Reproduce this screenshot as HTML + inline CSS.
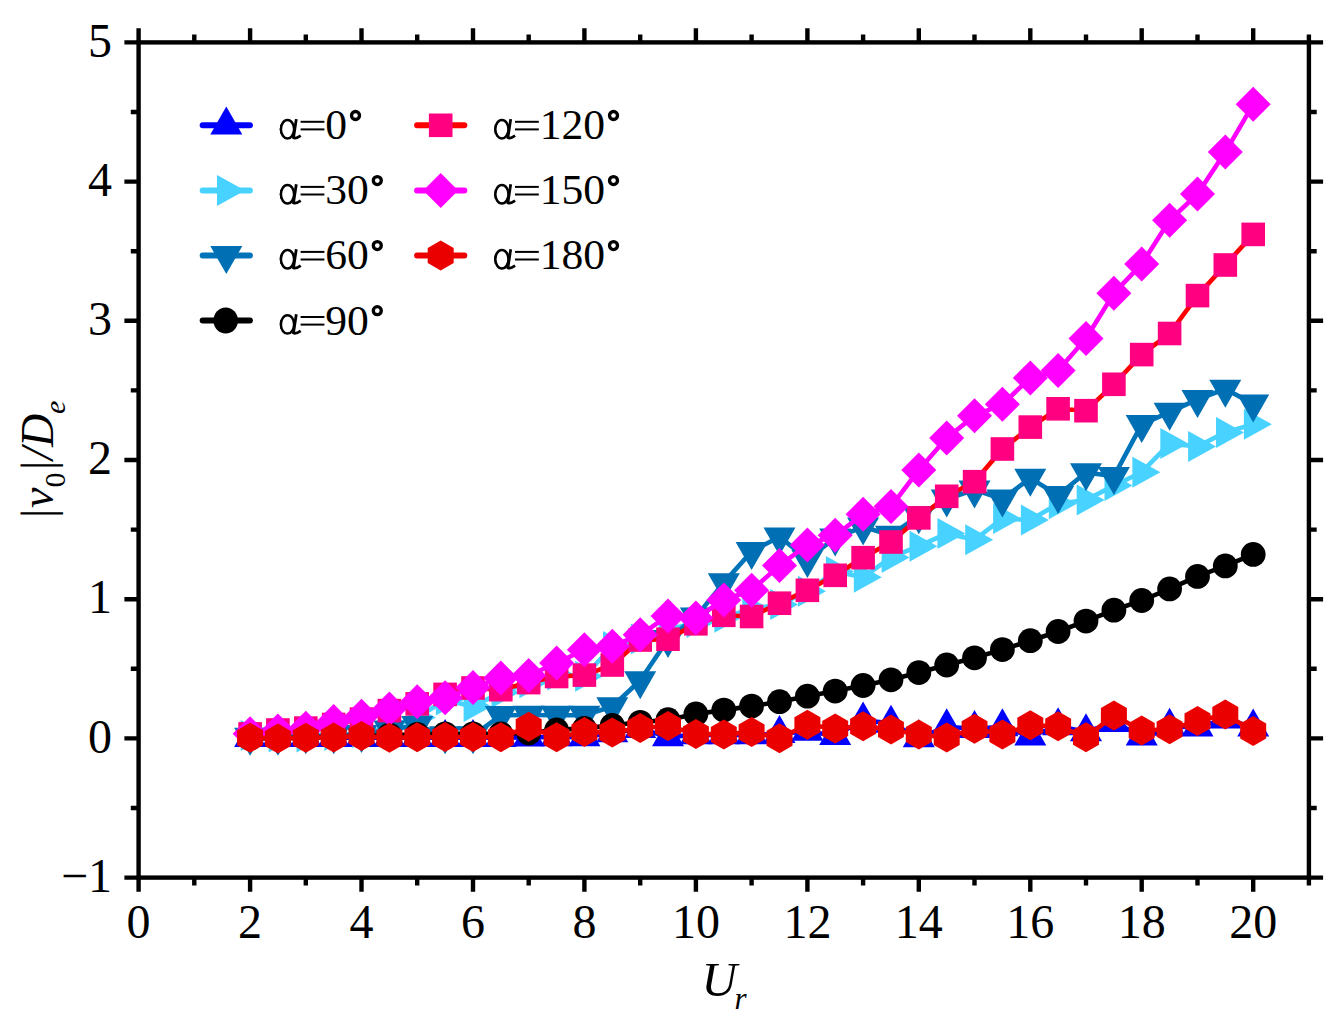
<!DOCTYPE html>
<html><head><meta charset="utf-8"><style>
html,body{margin:0;padding:0;background:#fff;width:1341px;height:1029px;overflow:hidden;}
svg{display:block;font-family:"Liberation Serif",serif;}
</style></head><body>
<svg width="1341" height="1029" viewBox="0 0 1341 1029">
<rect width="1341" height="1029" fill="#fff"/>
<polyline points="250.1,737.7 277.9,737.7 305.8,737.7 333.7,737.7 361.5,737.7 389.4,737.7 417.2,737.7 445.1,737.7 473.0,737.7 500.8,737.7 528.7,737.3 556.6,737.0 584.4,736.9 612.3,732.8 640.2,728.7 668.0,736.9 695.9,734.9 723.8,734.9 751.6,734.9 779.5,733.7 807.4,731.4 835.2,735.6 863.1,720.3 891.0,723.4 918.8,737.8 946.7,727.0 974.5,728.5 1002.4,727.0 1030.3,736.3 1058.1,725.9 1086.0,731.9 1113.9,722.5 1141.7,736.0 1169.6,726.4 1197.5,727.1 1225.3,719.1 1253.2,727.3" fill="none" stroke="#0000ff" stroke-width="4.6" stroke-linejoin="round" stroke-linecap="round"/>
<g fill="#0000ff"><path d="M250.1,719.0L266.1,747.0L234.1,747.0Z"/><path d="M277.9,719.0L293.9,747.0L261.9,747.0Z"/><path d="M305.8,719.0L321.8,747.0L289.8,747.0Z"/><path d="M333.7,719.0L349.7,747.0L317.7,747.0Z"/><path d="M361.5,719.0L377.5,747.0L345.5,747.0Z"/><path d="M389.4,719.0L405.4,747.0L373.4,747.0Z"/><path d="M417.2,719.0L433.2,747.0L401.2,747.0Z"/><path d="M445.1,719.0L461.1,747.0L429.1,747.0Z"/><path d="M473.0,719.0L489.0,747.0L457.0,747.0Z"/><path d="M500.8,719.0L516.8,747.0L484.8,747.0Z"/><path d="M528.7,718.6L544.7,746.6L512.7,746.6Z"/><path d="M556.6,718.3L572.6,746.3L540.6,746.3Z"/><path d="M584.4,718.2L600.4,746.2L568.4,746.2Z"/><path d="M612.3,714.2L628.3,742.2L596.3,742.2Z"/><path d="M640.2,710.0L656.2,738.0L624.2,738.0Z"/><path d="M668.0,718.2L684.0,746.2L652.0,746.2Z"/><path d="M695.9,716.3L711.9,744.3L679.9,744.3Z"/><path d="M723.8,716.3L739.8,744.3L707.8,744.3Z"/><path d="M751.6,716.3L767.6,744.3L735.6,744.3Z"/><path d="M779.5,715.0L795.5,743.0L763.5,743.0Z"/><path d="M807.4,712.8L823.4,740.8L791.4,740.8Z"/><path d="M835.2,716.9L851.2,744.9L819.2,744.9Z"/><path d="M863.1,701.6L879.1,729.6L847.1,729.6Z"/><path d="M891.0,704.7L907.0,732.7L875.0,732.7Z"/><path d="M918.8,719.2L934.8,747.2L902.8,747.2Z"/><path d="M946.7,708.3L962.7,736.3L930.7,736.3Z"/><path d="M974.5,709.9L990.5,737.9L958.5,737.9Z"/><path d="M1002.4,708.3L1018.4,736.3L986.4,736.3Z"/><path d="M1030.3,717.6L1046.3,745.6L1014.3,745.6Z"/><path d="M1058.1,707.2L1074.1,735.2L1042.1,735.2Z"/><path d="M1086.0,713.2L1102.0,741.2L1070.0,741.2Z"/><path d="M1113.9,703.9L1129.9,731.9L1097.9,731.9Z"/><path d="M1141.7,717.4L1157.7,745.4L1125.7,745.4Z"/><path d="M1169.6,707.8L1185.6,735.8L1153.6,735.8Z"/><path d="M1197.5,708.5L1213.5,736.5L1181.5,736.5Z"/><path d="M1225.3,700.4L1241.3,728.4L1209.3,728.4Z"/><path d="M1253.2,708.6L1269.2,736.6L1237.2,736.6Z"/></g>
<polyline points="250.1,735.6 277.9,737.0 305.8,737.0 333.7,735.6 361.5,732.8 389.4,727.3 417.2,717.5 445.1,700.1 473.0,706.4 500.8,692.5 528.7,682.7 556.6,675.1 584.4,676.2 612.3,646.5 640.2,638.9 668.0,629.8 695.9,622.6 723.8,617.3 751.6,608.9 779.5,604.6 807.4,591.3 835.2,571.4 863.1,577.3 891.0,557.4 918.8,546.2 946.7,533.6 974.5,539.8 1002.4,518.5 1030.3,520.1 1058.1,503.8 1086.0,500.0 1113.9,485.6 1141.7,472.2 1169.6,443.6 1197.5,446.5 1225.3,432.4 1253.2,424.2" fill="none" stroke="#48d2ff" stroke-width="4.6" stroke-linejoin="round" stroke-linecap="round"/>
<g fill="#48d2ff"><path d="M268.7,735.6L240.7,720.1L240.7,751.1Z"/><path d="M296.6,737.0L268.6,721.5L268.6,752.5Z"/><path d="M324.5,737.0L296.5,721.5L296.5,752.5Z"/><path d="M352.3,735.6L324.3,720.1L324.3,751.1Z"/><path d="M380.2,732.8L352.2,717.3L352.2,748.3Z"/><path d="M408.1,727.3L380.1,711.8L380.1,742.8Z"/><path d="M435.9,717.5L407.9,702.0L407.9,733.0Z"/><path d="M463.8,700.1L435.8,684.6L435.8,715.6Z"/><path d="M491.6,706.4L463.6,690.9L463.6,721.9Z"/><path d="M519.5,692.5L491.5,677.0L491.5,708.0Z"/><path d="M547.4,682.7L519.4,667.2L519.4,698.2Z"/><path d="M575.2,675.1L547.2,659.6L547.2,690.6Z"/><path d="M603.1,676.2L575.1,660.7L575.1,691.7Z"/><path d="M631.0,646.5L603.0,631.0L603.0,662.0Z"/><path d="M658.8,638.9L630.8,623.4L630.8,654.4Z"/><path d="M686.7,629.8L658.7,614.3L658.7,645.3Z"/><path d="M714.6,622.6L686.6,607.1L686.6,638.1Z"/><path d="M742.4,617.3L714.4,601.8L714.4,632.8Z"/><path d="M770.3,608.9L742.3,593.4L742.3,624.4Z"/><path d="M798.2,604.6L770.2,589.1L770.2,620.1Z"/><path d="M826.0,591.3L798.0,575.8L798.0,606.8Z"/><path d="M853.9,571.4L825.9,555.9L825.9,586.9Z"/><path d="M881.8,577.3L853.8,561.8L853.8,592.8Z"/><path d="M909.6,557.4L881.6,541.9L881.6,572.9Z"/><path d="M937.5,546.2L909.5,530.7L909.5,561.7Z"/><path d="M965.4,533.6L937.4,518.1L937.4,549.1Z"/><path d="M993.2,539.8L965.2,524.3L965.2,555.3Z"/><path d="M1021.1,518.5L993.1,503.0L993.1,534.0Z"/><path d="M1048.9,520.1L1020.9,504.6L1020.9,535.6Z"/><path d="M1076.8,503.8L1048.8,488.3L1048.8,519.3Z"/><path d="M1104.7,500.0L1076.7,484.5L1076.7,515.5Z"/><path d="M1132.5,485.6L1104.5,470.1L1104.5,501.1Z"/><path d="M1160.4,472.2L1132.4,456.7L1132.4,487.7Z"/><path d="M1188.3,443.6L1160.3,428.1L1160.3,459.1Z"/><path d="M1216.1,446.5L1188.1,431.0L1188.1,462.0Z"/><path d="M1244.0,432.4L1216.0,416.9L1216.0,447.9Z"/><path d="M1271.9,424.2L1243.9,408.7L1243.9,439.7Z"/></g>
<polyline points="250.1,737.0 277.9,737.0 305.8,735.6 333.7,735.6 361.5,734.2 389.4,729.8 417.2,725.3 445.1,735.6 473.0,735.6 500.8,715.3 528.7,715.0 556.6,715.2 584.4,715.2 612.3,706.5 640.2,680.5 668.0,639.3 695.9,616.9 723.8,582.6 751.6,551.5 779.5,536.7 807.4,559.2 835.2,538.0 863.1,526.8 891.0,535.2 918.8,515.7 946.7,499.0 974.5,489.9 1002.4,499.0 1030.3,478.1 1058.1,495.2 1086.0,472.5 1113.9,476.3 1141.7,424.4 1169.6,412.1 1197.5,399.4 1225.3,389.0 1253.2,403.9" fill="none" stroke="#0074b9" stroke-width="4.6" stroke-linejoin="round" stroke-linecap="round"/>
<g fill="#006fb4"><path d="M250.1,755.7L266.1,727.7L234.1,727.7Z"/><path d="M277.9,755.7L293.9,727.7L261.9,727.7Z"/><path d="M305.8,754.3L321.8,726.3L289.8,726.3Z"/><path d="M333.7,754.3L349.7,726.3L317.7,726.3Z"/><path d="M361.5,752.9L377.5,724.9L345.5,724.9Z"/><path d="M389.4,748.4L405.4,720.4L373.4,720.4Z"/><path d="M417.2,744.0L433.2,716.0L401.2,716.0Z"/><path d="M445.1,754.3L461.1,726.3L429.1,726.3Z"/><path d="M473.0,754.3L489.0,726.3L457.0,726.3Z"/><path d="M500.8,734.0L516.8,706.0L484.8,706.0Z"/><path d="M528.7,733.7L544.7,705.7L512.7,705.7Z"/><path d="M556.6,733.8L572.6,705.8L540.6,705.8Z"/><path d="M584.4,733.8L600.4,705.8L568.4,705.8Z"/><path d="M612.3,725.2L628.3,697.2L596.3,697.2Z"/><path d="M640.2,699.2L656.2,671.2L624.2,671.2Z"/><path d="M668.0,658.0L684.0,630.0L652.0,630.0Z"/><path d="M695.9,635.5L711.9,607.5L679.9,607.5Z"/><path d="M723.8,601.3L739.8,573.3L707.8,573.3Z"/><path d="M751.6,570.1L767.6,542.1L735.6,542.1Z"/><path d="M779.5,555.4L795.5,527.4L763.5,527.4Z"/><path d="M807.4,577.9L823.4,549.9L791.4,549.9Z"/><path d="M835.2,556.6L851.2,528.6L819.2,528.6Z"/><path d="M863.1,545.5L879.1,517.5L847.1,517.5Z"/><path d="M891.0,553.8L907.0,525.8L875.0,525.8Z"/><path d="M918.8,534.3L934.8,506.3L902.8,506.3Z"/><path d="M946.7,517.6L962.7,489.6L930.7,489.6Z"/><path d="M974.5,508.6L990.5,480.6L958.5,480.6Z"/><path d="M1002.4,517.6L1018.4,489.6L986.4,489.6Z"/><path d="M1030.3,496.8L1046.3,468.8L1014.3,468.8Z"/><path d="M1058.1,513.9L1074.1,485.9L1042.1,485.9Z"/><path d="M1086.0,491.2L1102.0,463.2L1070.0,463.2Z"/><path d="M1113.9,495.0L1129.9,467.0L1097.9,467.0Z"/><path d="M1141.7,443.0L1157.7,415.0L1125.7,415.0Z"/><path d="M1169.6,430.8L1185.6,402.8L1153.6,402.8Z"/><path d="M1197.5,418.1L1213.5,390.1L1181.5,390.1Z"/><path d="M1225.3,407.7L1241.3,379.7L1209.3,379.7Z"/><path d="M1253.2,422.6L1269.2,394.6L1237.2,394.6Z"/></g>
<polyline points="250.1,738.4 277.9,738.4 305.8,737.7 333.7,737.0 361.5,736.3 389.4,735.1 417.2,734.5 445.1,733.8 473.0,733.8 500.8,733.8 528.7,733.0 556.6,729.9 584.4,728.4 612.3,725.3 640.2,722.3 668.0,719.7 695.9,714.0 723.8,710.1 751.6,706.1 779.5,701.7 807.4,696.2 835.2,691.1 863.1,685.5 891.0,679.8 918.8,672.6 946.7,665.0 974.5,657.8 1002.4,649.6 1030.3,640.7 1058.1,631.5 1086.0,621.1 1113.9,610.2 1141.7,600.5 1169.6,588.9 1197.5,576.4 1225.3,565.9 1253.2,554.4" fill="none" stroke="#000000" stroke-width="4.6" stroke-linejoin="round" stroke-linecap="round"/>
<g fill="#000000"><circle cx="250.1" cy="738.4" r="12.4"/><circle cx="277.9" cy="738.4" r="12.4"/><circle cx="305.8" cy="737.7" r="12.4"/><circle cx="333.7" cy="737.0" r="12.4"/><circle cx="361.5" cy="736.3" r="12.4"/><circle cx="389.4" cy="735.1" r="12.4"/><circle cx="417.2" cy="734.5" r="12.4"/><circle cx="445.1" cy="733.8" r="12.4"/><circle cx="473.0" cy="733.8" r="12.4"/><circle cx="500.8" cy="733.8" r="12.4"/><circle cx="528.7" cy="733.0" r="12.4"/><circle cx="556.6" cy="729.9" r="12.4"/><circle cx="584.4" cy="728.4" r="12.4"/><circle cx="612.3" cy="725.3" r="12.4"/><circle cx="640.2" cy="722.3" r="12.4"/><circle cx="668.0" cy="719.7" r="12.4"/><circle cx="695.9" cy="714.0" r="12.4"/><circle cx="723.8" cy="710.1" r="12.4"/><circle cx="751.6" cy="706.1" r="12.4"/><circle cx="779.5" cy="701.7" r="12.4"/><circle cx="807.4" cy="696.2" r="12.4"/><circle cx="835.2" cy="691.1" r="12.4"/><circle cx="863.1" cy="685.5" r="12.4"/><circle cx="891.0" cy="679.8" r="12.4"/><circle cx="918.8" cy="672.6" r="12.4"/><circle cx="946.7" cy="665.0" r="12.4"/><circle cx="974.5" cy="657.8" r="12.4"/><circle cx="1002.4" cy="649.6" r="12.4"/><circle cx="1030.3" cy="640.7" r="12.4"/><circle cx="1058.1" cy="631.5" r="12.4"/><circle cx="1086.0" cy="621.1" r="12.4"/><circle cx="1113.9" cy="610.2" r="12.4"/><circle cx="1141.7" cy="600.5" r="12.4"/><circle cx="1169.6" cy="588.9" r="12.4"/><circle cx="1197.5" cy="576.4" r="12.4"/><circle cx="1225.3" cy="565.9" r="12.4"/><circle cx="1253.2" cy="554.4" r="12.4"/></g>
<polyline points="250.1,733.9 277.9,730.0 305.8,728.1 333.7,724.5 361.5,719.1 389.4,710.6 417.2,703.9 445.1,694.4 473.0,688.0 500.8,689.7 528.7,682.6 556.6,676.5 584.4,675.1 612.3,665.0 640.2,640.0 668.0,639.2 695.9,623.8 723.8,615.3 751.6,616.5 779.5,603.2 807.4,590.3 835.2,575.3 863.1,557.7 891.0,542.0 918.8,517.9 946.7,496.3 974.5,481.7 1002.4,449.0 1030.3,427.1 1058.1,408.8 1086.0,410.7 1113.9,384.3 1141.7,354.6 1169.6,333.5 1197.5,295.6 1225.3,265.0 1253.2,234.4" fill="none" stroke="#ff0000" stroke-width="4.6" stroke-linejoin="round" stroke-linecap="round"/>
<g fill="#ff0080"><rect x="238.3" y="722.1" width="23.6" height="23.6"/><rect x="266.1" y="718.2" width="23.6" height="23.6"/><rect x="294.0" y="716.3" width="23.6" height="23.6"/><rect x="321.9" y="712.7" width="23.6" height="23.6"/><rect x="349.7" y="707.3" width="23.6" height="23.6"/><rect x="377.6" y="698.8" width="23.6" height="23.6"/><rect x="405.4" y="692.1" width="23.6" height="23.6"/><rect x="433.3" y="682.6" width="23.6" height="23.6"/><rect x="461.2" y="676.2" width="23.6" height="23.6"/><rect x="489.0" y="677.9" width="23.6" height="23.6"/><rect x="516.9" y="670.8" width="23.6" height="23.6"/><rect x="544.8" y="664.7" width="23.6" height="23.6"/><rect x="572.6" y="663.3" width="23.6" height="23.6"/><rect x="600.5" y="653.2" width="23.6" height="23.6"/><rect x="628.4" y="628.2" width="23.6" height="23.6"/><rect x="656.2" y="627.4" width="23.6" height="23.6"/><rect x="684.1" y="612.0" width="23.6" height="23.6"/><rect x="712.0" y="603.5" width="23.6" height="23.6"/><rect x="739.8" y="604.7" width="23.6" height="23.6"/><rect x="767.7" y="591.4" width="23.6" height="23.6"/><rect x="795.6" y="578.5" width="23.6" height="23.6"/><rect x="823.4" y="563.5" width="23.6" height="23.6"/><rect x="851.3" y="545.9" width="23.6" height="23.6"/><rect x="879.2" y="530.2" width="23.6" height="23.6"/><rect x="907.0" y="506.1" width="23.6" height="23.6"/><rect x="934.9" y="484.5" width="23.6" height="23.6"/><rect x="962.8" y="469.9" width="23.6" height="23.6"/><rect x="990.6" y="437.2" width="23.6" height="23.6"/><rect x="1018.5" y="415.3" width="23.6" height="23.6"/><rect x="1046.3" y="397.0" width="23.6" height="23.6"/><rect x="1074.2" y="398.9" width="23.6" height="23.6"/><rect x="1102.1" y="372.5" width="23.6" height="23.6"/><rect x="1129.9" y="342.8" width="23.6" height="23.6"/><rect x="1157.8" y="321.7" width="23.6" height="23.6"/><rect x="1185.7" y="283.8" width="23.6" height="23.6"/><rect x="1213.5" y="253.2" width="23.6" height="23.6"/><rect x="1241.4" y="222.6" width="23.6" height="23.6"/></g>
<polyline points="250.1,733.8 277.9,731.0 305.8,728.2 333.7,721.4 361.5,716.3 389.4,709.0 417.2,701.7 445.1,697.8 473.0,687.5 500.8,678.0 528.7,675.5 556.6,663.0 584.4,649.7 612.3,646.2 640.2,634.8 668.0,615.9 695.9,618.0 723.8,600.0 751.6,590.2 779.5,565.5 807.4,544.9 835.2,535.3 863.1,514.3 891.0,506.6 918.8,470.0 946.7,438.1 974.5,415.7 1002.4,404.3 1030.3,377.9 1058.1,370.4 1086.0,338.5 1113.9,293.2 1141.7,264.1 1169.6,220.3 1197.5,194.1 1225.3,152.1 1253.2,104.3" fill="none" stroke="#ff00ff" stroke-width="4.6" stroke-linejoin="round" stroke-linecap="round"/>
<g fill="#ff00ff"><path d="M250.1,716.3L267.6,733.8L250.1,751.3L232.6,733.8Z"/><path d="M277.9,713.5L295.4,731.0L277.9,748.5L260.4,731.0Z"/><path d="M305.8,710.7L323.3,728.2L305.8,745.7L288.3,728.2Z"/><path d="M333.7,703.9L351.2,721.4L333.7,738.9L316.2,721.4Z"/><path d="M361.5,698.8L379.0,716.3L361.5,733.8L344.0,716.3Z"/><path d="M389.4,691.5L406.9,709.0L389.4,726.5L371.9,709.0Z"/><path d="M417.2,684.2L434.8,701.7L417.2,719.2L399.8,701.7Z"/><path d="M445.1,680.3L462.6,697.8L445.1,715.3L427.6,697.8Z"/><path d="M473.0,670.0L490.5,687.5L473.0,705.0L455.5,687.5Z"/><path d="M500.8,660.5L518.3,678.0L500.8,695.5L483.3,678.0Z"/><path d="M528.7,658.0L546.2,675.5L528.7,693.0L511.2,675.5Z"/><path d="M556.6,645.5L574.1,663.0L556.6,680.5L539.1,663.0Z"/><path d="M584.4,632.2L601.9,649.7L584.4,667.2L566.9,649.7Z"/><path d="M612.3,628.7L629.8,646.2L612.3,663.7L594.8,646.2Z"/><path d="M640.2,617.3L657.7,634.8L640.2,652.3L622.7,634.8Z"/><path d="M668.0,598.4L685.5,615.9L668.0,633.4L650.5,615.9Z"/><path d="M695.9,600.5L713.4,618.0L695.9,635.5L678.4,618.0Z"/><path d="M723.8,582.5L741.3,600.0L723.8,617.5L706.3,600.0Z"/><path d="M751.6,572.7L769.1,590.2L751.6,607.7L734.1,590.2Z"/><path d="M779.5,548.0L797.0,565.5L779.5,583.0L762.0,565.5Z"/><path d="M807.4,527.4L824.9,544.9L807.4,562.4L789.9,544.9Z"/><path d="M835.2,517.8L852.7,535.3L835.2,552.8L817.7,535.3Z"/><path d="M863.1,496.8L880.6,514.3L863.1,531.8L845.6,514.3Z"/><path d="M891.0,489.1L908.5,506.6L891.0,524.1L873.5,506.6Z"/><path d="M918.8,452.5L936.3,470.0L918.8,487.5L901.3,470.0Z"/><path d="M946.7,420.6L964.2,438.1L946.7,455.6L929.2,438.1Z"/><path d="M974.5,398.2L992.0,415.7L974.5,433.2L957.0,415.7Z"/><path d="M1002.4,386.8L1019.9,404.3L1002.4,421.8L984.9,404.3Z"/><path d="M1030.3,360.4L1047.8,377.9L1030.3,395.4L1012.8,377.9Z"/><path d="M1058.1,352.9L1075.6,370.4L1058.1,387.9L1040.6,370.4Z"/><path d="M1086.0,321.0L1103.5,338.5L1086.0,356.0L1068.5,338.5Z"/><path d="M1113.9,275.7L1131.4,293.2L1113.9,310.7L1096.4,293.2Z"/><path d="M1141.7,246.6L1159.2,264.1L1141.7,281.6L1124.2,264.1Z"/><path d="M1169.6,202.8L1187.1,220.3L1169.6,237.8L1152.1,220.3Z"/><path d="M1197.5,176.6L1215.0,194.1L1197.5,211.6L1180.0,194.1Z"/><path d="M1225.3,134.6L1242.8,152.1L1225.3,169.6L1207.8,152.1Z"/><path d="M1253.2,86.8L1270.7,104.3L1253.2,121.8L1235.7,104.3Z"/></g>
<polyline points="250.1,737.7 277.9,738.4 305.8,737.7 333.7,737.4 361.5,736.0 389.4,737.7 417.2,737.3 445.1,737.0 473.0,737.0 500.8,737.3 528.7,726.8 556.6,737.3 584.4,731.9 612.3,732.6 640.2,728.0 668.0,726.0 695.9,733.9 723.8,734.4 751.6,732.1 779.5,738.3 807.4,724.8 835.2,728.5 863.1,726.3 891.0,729.6 918.8,734.5 946.7,737.4 974.5,728.8 1002.4,734.5 1030.3,725.2 1058.1,726.2 1086.0,737.3 1113.9,715.4 1141.7,730.5 1169.6,729.2 1197.5,721.1 1225.3,714.5 1253.2,731.0" fill="none" stroke="#ee0000" stroke-width="4.6" stroke-linejoin="round" stroke-linecap="round"/>
<g fill="#eb0000"><path d="M250.1,722.7L237.1,730.2L237.1,745.2L250.1,752.7L263.1,745.2L263.1,730.2Z"/><path d="M277.9,723.4L264.9,730.9L264.9,745.9L277.9,753.4L290.9,745.9L290.9,730.9Z"/><path d="M305.8,722.7L292.8,730.2L292.8,745.2L305.8,752.7L318.8,745.2L318.8,730.2Z"/><path d="M333.7,722.4L320.7,729.9L320.7,744.9L333.7,752.4L346.6,744.9L346.6,729.9Z"/><path d="M361.5,721.0L348.5,728.5L348.5,743.5L361.5,751.0L374.5,743.5L374.5,728.5Z"/><path d="M389.4,722.7L376.4,730.2L376.4,745.2L389.4,752.7L402.4,745.2L402.4,730.2Z"/><path d="M417.2,722.3L404.3,729.8L404.3,744.8L417.2,752.3L430.2,744.8L430.2,729.8Z"/><path d="M445.1,722.0L432.1,729.5L432.1,744.5L445.1,752.0L458.1,744.5L458.1,729.5Z"/><path d="M473.0,722.0L460.0,729.5L460.0,744.5L473.0,752.0L486.0,744.5L486.0,729.5Z"/><path d="M500.8,722.3L487.9,729.8L487.9,744.8L500.8,752.3L513.8,744.8L513.8,729.8Z"/><path d="M528.7,711.8L515.7,719.3L515.7,734.3L528.7,741.8L541.7,734.3L541.7,719.3Z"/><path d="M556.6,722.3L543.6,729.8L543.6,744.8L556.6,752.3L569.6,744.8L569.6,729.8Z"/><path d="M584.4,716.9L571.4,724.4L571.4,739.4L584.4,746.9L597.4,739.4L597.4,724.4Z"/><path d="M612.3,717.6L599.3,725.1L599.3,740.1L612.3,747.6L625.3,740.1L625.3,725.1Z"/><path d="M640.2,713.0L627.2,720.5L627.2,735.5L640.2,743.0L653.2,735.5L653.2,720.5Z"/><path d="M668.0,711.0L655.0,718.5L655.0,733.5L668.0,741.0L681.0,733.5L681.0,718.5Z"/><path d="M695.9,718.9L682.9,726.4L682.9,741.4L695.9,748.9L708.9,741.4L708.9,726.4Z"/><path d="M723.8,719.4L710.8,726.9L710.8,741.9L723.8,749.4L736.8,741.9L736.8,726.9Z"/><path d="M751.6,717.1L738.6,724.6L738.6,739.6L751.6,747.1L764.6,739.6L764.6,724.6Z"/><path d="M779.5,723.3L766.5,730.8L766.5,745.8L779.5,753.3L792.5,745.8L792.5,730.8Z"/><path d="M807.4,709.8L794.4,717.3L794.4,732.3L807.4,739.8L820.4,732.3L820.4,717.3Z"/><path d="M835.2,713.5L822.2,721.0L822.2,736.0L835.2,743.5L848.2,736.0L848.2,721.0Z"/><path d="M863.1,711.3L850.1,718.8L850.1,733.8L863.1,741.3L876.1,733.8L876.1,718.8Z"/><path d="M891.0,714.6L878.0,722.1L878.0,737.1L891.0,744.6L903.9,737.1L903.9,722.1Z"/><path d="M918.8,719.5L905.8,727.0L905.8,742.0L918.8,749.5L931.8,742.0L931.8,727.0Z"/><path d="M946.7,722.4L933.7,729.9L933.7,744.9L946.7,752.4L959.7,744.9L959.7,729.9Z"/><path d="M974.5,713.8L961.6,721.3L961.6,736.3L974.5,743.8L987.5,736.3L987.5,721.3Z"/><path d="M1002.4,719.5L989.4,727.0L989.4,742.0L1002.4,749.5L1015.4,742.0L1015.4,727.0Z"/><path d="M1030.3,710.2L1017.3,717.7L1017.3,732.7L1030.3,740.2L1043.3,732.7L1043.3,717.7Z"/><path d="M1058.1,711.2L1045.2,718.7L1045.2,733.7L1058.1,741.2L1071.1,733.7L1071.1,718.7Z"/><path d="M1086.0,722.3L1073.0,729.8L1073.0,744.8L1086.0,752.3L1099.0,744.8L1099.0,729.8Z"/><path d="M1113.9,700.4L1100.9,707.9L1100.9,722.9L1113.9,730.4L1126.9,722.9L1126.9,707.9Z"/><path d="M1141.7,715.5L1128.7,723.0L1128.7,738.0L1141.7,745.5L1154.7,738.0L1154.7,723.0Z"/><path d="M1169.6,714.2L1156.6,721.7L1156.6,736.7L1169.6,744.2L1182.6,736.7L1182.6,721.7Z"/><path d="M1197.5,706.1L1184.5,713.6L1184.5,728.6L1197.5,736.1L1210.5,728.6L1210.5,713.6Z"/><path d="M1225.3,699.5L1212.3,707.0L1212.3,722.0L1225.3,729.5L1238.3,722.0L1238.3,707.0Z"/><path d="M1253.2,716.0L1240.2,723.5L1240.2,738.5L1253.2,746.0L1266.2,738.5L1266.2,723.5Z"/></g>
<line x1="202.7" y1="125.3" x2="249.9" y2="125.3" stroke="#0000ff" stroke-width="6" stroke-linecap="round"/>
<g fill="#0000ff"><path d="M226.3,106.6L242.3,134.6L210.3,134.6Z"/></g>
<ellipse cx="287.5" cy="129.2" rx="6.6" ry="9.2" fill="none" stroke="#000" stroke-width="2.5"/>
<path d="M281.3,124.8Q280.0,129.2 281.3,133.6" stroke="#000" stroke-width="1.8" fill="none"/>
<path d="M296.3,119.1L293.5,137.7Q295.6,139.1 300.7,135.6" stroke="#000" stroke-width="2.8" fill="none"/>
<rect x="300.6" y="120.8" width="23.8" height="2" fill="#000"/><rect x="300.6" y="128.4" width="23.8" height="2" fill="#000"/>
<g transform="translate(325.3,139.3) scale(1.048,1)"><text font-family="Liberation Serif" font-size="41.6">0</text></g>
<circle cx="355.5" cy="115.5" r="4.0" fill="none" stroke="#000" stroke-width="3.3"/>
<line x1="202.7" y1="190.4" x2="249.9" y2="190.4" stroke="#48d2ff" stroke-width="6" stroke-linecap="round"/>
<g fill="#48d2ff"><path d="M245.0,190.4L217.0,174.9L217.0,205.9Z"/></g>
<ellipse cx="287.5" cy="194.3" rx="6.6" ry="9.2" fill="none" stroke="#000" stroke-width="2.5"/>
<path d="M281.3,189.9Q280.0,194.3 281.3,198.7" stroke="#000" stroke-width="1.8" fill="none"/>
<path d="M296.3,184.2L293.5,202.8Q295.6,204.2 300.7,200.7" stroke="#000" stroke-width="2.8" fill="none"/>
<rect x="300.6" y="185.9" width="23.8" height="2" fill="#000"/><rect x="300.6" y="193.5" width="23.8" height="2" fill="#000"/>
<g transform="translate(325.3,204.4) scale(1.048,1)"><text font-family="Liberation Serif" font-size="41.6">30</text></g>
<circle cx="377.3" cy="180.6" r="4.0" fill="none" stroke="#000" stroke-width="3.3"/>
<line x1="202.7" y1="255.4" x2="249.9" y2="255.4" stroke="#0074b9" stroke-width="6" stroke-linecap="round"/>
<g fill="#006fb4"><path d="M226.3,274.1L242.3,246.1L210.3,246.1Z"/></g>
<ellipse cx="287.5" cy="259.3" rx="6.6" ry="9.2" fill="none" stroke="#000" stroke-width="2.5"/>
<path d="M281.3,254.9Q280.0,259.3 281.3,263.7" stroke="#000" stroke-width="1.8" fill="none"/>
<path d="M296.3,249.2L293.5,267.8Q295.6,269.2 300.7,265.7" stroke="#000" stroke-width="2.8" fill="none"/>
<rect x="300.6" y="250.9" width="23.8" height="2" fill="#000"/><rect x="300.6" y="258.5" width="23.8" height="2" fill="#000"/>
<g transform="translate(325.3,269.4) scale(1.048,1)"><text font-family="Liberation Serif" font-size="41.6">60</text></g>
<circle cx="377.3" cy="245.6" r="4.0" fill="none" stroke="#000" stroke-width="3.3"/>
<line x1="202.7" y1="320.5" x2="249.9" y2="320.5" stroke="#000000" stroke-width="6" stroke-linecap="round"/>
<ellipse cx="225.7" cy="320.5" rx="12.3" ry="13.0" fill="#000"/>
<ellipse cx="287.5" cy="324.4" rx="6.6" ry="9.2" fill="none" stroke="#000" stroke-width="2.5"/>
<path d="M281.3,320.0Q280.0,324.4 281.3,328.8" stroke="#000" stroke-width="1.8" fill="none"/>
<path d="M296.3,314.3L293.5,332.9Q295.6,334.3 300.7,330.8" stroke="#000" stroke-width="2.8" fill="none"/>
<rect x="300.6" y="316.0" width="23.8" height="2" fill="#000"/><rect x="300.6" y="323.6" width="23.8" height="2" fill="#000"/>
<g transform="translate(325.3,334.5) scale(1.048,1)"><text font-family="Liberation Serif" font-size="41.6">90</text></g>
<circle cx="377.3" cy="310.7" r="4.0" fill="none" stroke="#000" stroke-width="3.3"/>
<line x1="417.1" y1="125.3" x2="464.3" y2="125.3" stroke="#ff0000" stroke-width="6" stroke-linecap="round"/>
<g fill="#ff0080"><rect x="428.9" y="113.5" width="23.6" height="23.6"/></g>
<ellipse cx="501.9" cy="129.2" rx="6.6" ry="9.2" fill="none" stroke="#000" stroke-width="2.5"/>
<path d="M495.7,124.8Q494.4,129.2 495.7,133.6" stroke="#000" stroke-width="1.8" fill="none"/>
<path d="M510.7,119.1L507.9,137.7Q510.0,139.1 515.1,135.6" stroke="#000" stroke-width="2.8" fill="none"/>
<rect x="515.0" y="120.8" width="23.8" height="2" fill="#000"/><rect x="515.0" y="128.4" width="23.8" height="2" fill="#000"/>
<g transform="translate(539.7,139.3) scale(1.048,1)"><text font-family="Liberation Serif" font-size="41.6">120</text></g>
<circle cx="613.5" cy="115.5" r="4.0" fill="none" stroke="#000" stroke-width="3.3"/>
<line x1="417.1" y1="190.4" x2="464.3" y2="190.4" stroke="#ff00ff" stroke-width="6" stroke-linecap="round"/>
<g fill="#ff00ff"><path d="M440.7,172.9L458.2,190.4L440.7,207.9L423.2,190.4Z"/></g>
<ellipse cx="501.9" cy="194.3" rx="6.6" ry="9.2" fill="none" stroke="#000" stroke-width="2.5"/>
<path d="M495.7,189.9Q494.4,194.3 495.7,198.7" stroke="#000" stroke-width="1.8" fill="none"/>
<path d="M510.7,184.2L507.9,202.8Q510.0,204.2 515.1,200.7" stroke="#000" stroke-width="2.8" fill="none"/>
<rect x="515.0" y="185.9" width="23.8" height="2" fill="#000"/><rect x="515.0" y="193.5" width="23.8" height="2" fill="#000"/>
<g transform="translate(539.7,204.4) scale(1.048,1)"><text font-family="Liberation Serif" font-size="41.6">150</text></g>
<circle cx="613.5" cy="180.6" r="4.0" fill="none" stroke="#000" stroke-width="3.3"/>
<line x1="417.1" y1="255.4" x2="464.3" y2="255.4" stroke="#ee0000" stroke-width="6" stroke-linecap="round"/>
<g fill="#eb0000"><path d="M440.7,240.4L427.7,247.9L427.7,262.9L440.7,270.4L453.7,262.9L453.7,247.9Z"/></g>
<ellipse cx="501.9" cy="259.3" rx="6.6" ry="9.2" fill="none" stroke="#000" stroke-width="2.5"/>
<path d="M495.7,254.9Q494.4,259.3 495.7,263.7" stroke="#000" stroke-width="1.8" fill="none"/>
<path d="M510.7,249.2L507.9,267.8Q510.0,269.2 515.1,265.7" stroke="#000" stroke-width="2.8" fill="none"/>
<rect x="515.0" y="250.9" width="23.8" height="2" fill="#000"/><rect x="515.0" y="258.5" width="23.8" height="2" fill="#000"/>
<g transform="translate(539.7,269.4) scale(1.048,1)"><text font-family="Liberation Serif" font-size="41.6">180</text></g>
<circle cx="613.5" cy="245.6" r="4.0" fill="none" stroke="#000" stroke-width="3.3"/>
<rect x="138.6" y="42.4" width="1170.3" height="835.2" fill="none" stroke="#000" stroke-width="4.4"/>
<path d="M138.6,877.6v14.2M138.6,42.4v-14.2M194.3,877.6v7.8M194.3,42.4v-7.8M250.1,877.6v14.2M250.1,42.4v-14.2M305.8,877.6v7.8M305.8,42.4v-7.8M361.5,877.6v14.2M361.5,42.4v-14.2M417.2,877.6v7.8M417.2,42.4v-7.8M473.0,877.6v14.2M473.0,42.4v-14.2M528.7,877.6v7.8M528.7,42.4v-7.8M584.4,877.6v14.2M584.4,42.4v-14.2M640.2,877.6v7.8M640.2,42.4v-7.8M695.9,877.6v14.2M695.9,42.4v-14.2M751.6,877.6v7.8M751.6,42.4v-7.8M807.4,877.6v14.2M807.4,42.4v-14.2M863.1,877.6v7.8M863.1,42.4v-7.8M918.8,877.6v14.2M918.8,42.4v-14.2M974.5,877.6v7.8M974.5,42.4v-7.8M1030.3,877.6v14.2M1030.3,42.4v-14.2M1086.0,877.6v7.8M1086.0,42.4v-7.8M1141.7,877.6v14.2M1141.7,42.4v-14.2M1197.5,877.6v7.8M1197.5,42.4v-7.8M1253.2,877.6v14.2M1253.2,42.4v-14.2M1308.9,877.6v7.8M1308.9,42.4v-7.8M138.6,877.6h-14.2M1308.9,877.6h14.2M138.6,808.0h-7.8M1308.9,808.0h7.8M138.6,738.4h-14.2M1308.9,738.4h14.2M138.6,668.8h-7.8M1308.9,668.8h7.8M138.6,599.2h-14.2M1308.9,599.2h14.2M138.6,529.6h-7.8M1308.9,529.6h7.8M138.6,460.0h-14.2M1308.9,460.0h14.2M138.6,390.4h-7.8M1308.9,390.4h7.8M138.6,320.8h-14.2M1308.9,320.8h14.2M138.6,251.2h-7.8M1308.9,251.2h7.8M138.6,181.6h-14.2M1308.9,181.6h14.2M138.6,112.0h-7.8M1308.9,112.0h7.8M138.6,42.4h-14.2M1308.9,42.4h14.2" stroke="#000" stroke-width="4.4" fill="none"/>
<g font-family="Liberation Serif" font-size="48" fill="#000">
<text x="138.6" y="937.5" text-anchor="middle">0</text>
<text x="250.1" y="937.5" text-anchor="middle">2</text>
<text x="361.5" y="937.5" text-anchor="middle">4</text>
<text x="473.0" y="937.5" text-anchor="middle">6</text>
<text x="584.4" y="937.5" text-anchor="middle">8</text>
<text x="695.9" y="937.5" text-anchor="middle">10</text>
<text x="807.4" y="937.5" text-anchor="middle">12</text>
<text x="918.8" y="937.5" text-anchor="middle">14</text>
<text x="1030.3" y="937.5" text-anchor="middle">16</text>
<text x="1141.7" y="937.5" text-anchor="middle">18</text>
<text x="1253.2" y="937.5" text-anchor="middle">20</text>
<text x="112" y="891.8" text-anchor="end">−1</text>
<text x="112" y="752.6" text-anchor="end">0</text>
<text x="112" y="613.4" text-anchor="end">1</text>
<text x="112" y="474.2" text-anchor="end">2</text>
<text x="112" y="335.0" text-anchor="end">3</text>
<text x="112" y="195.8" text-anchor="end">4</text>
<text x="112" y="56.6" text-anchor="end">5</text>
</g>
<text x="701.4" y="995.5" font-family="Liberation Serif" font-size="49" font-style="italic">U<tspan font-size="31" dx="-2.3" dy="13">r</tspan></text>
<g transform="translate(53,520.6) rotate(-90)"><text x="0" y="0" font-family="Liberation Serif" font-size="46"><tspan font-style="italic">|v</tspan><tspan font-size="30" dy="12">0</tspan><tspan dy="-12" font-style="italic">|/D</tspan><tspan font-size="30" dy="12" font-style="italic">e</tspan></text></g>
</svg>
</body></html>
